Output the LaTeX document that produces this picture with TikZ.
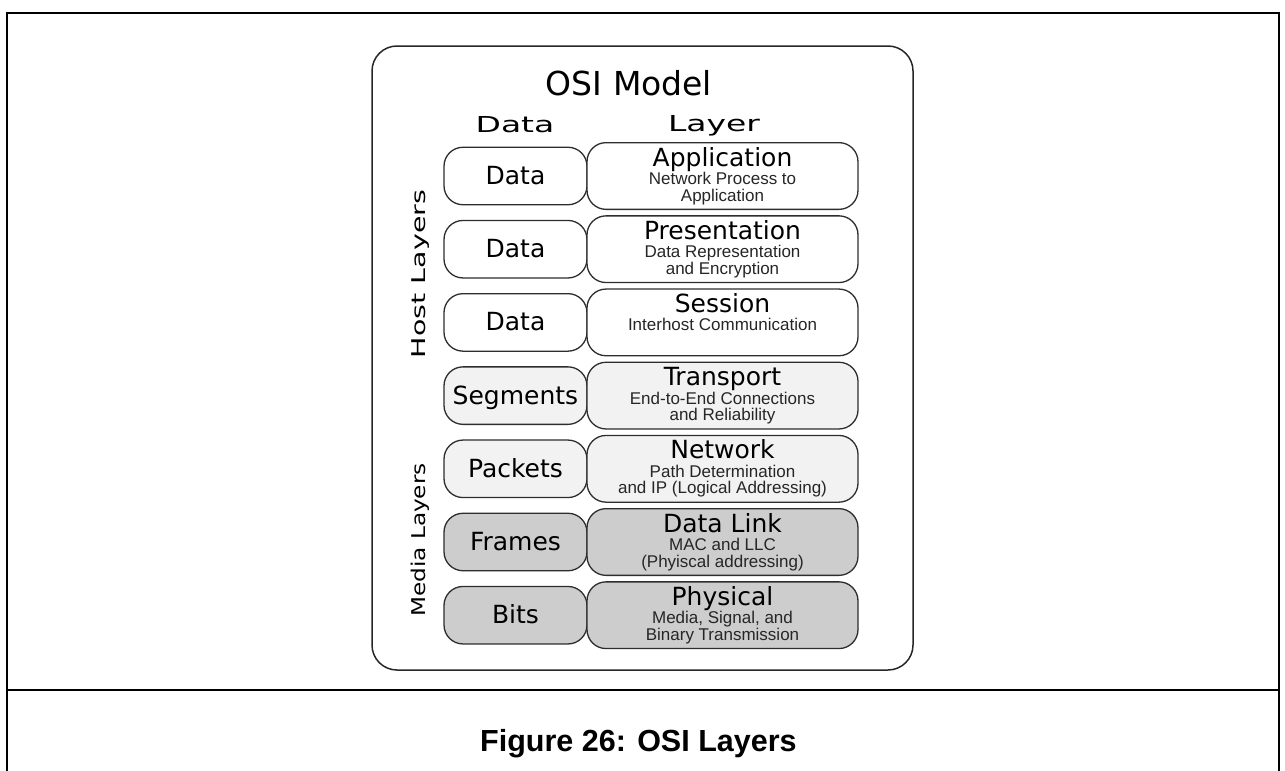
\documentclass[tikz,border=0pt]{standalone}
\usepackage{fontspec}
\setmainfont{DejaVu Sans}
\newfontfamily\arialfont{Liberation Sans}
\definecolor{lightg}{RGB}{242,242,242}
\definecolor{darkg}{RGB}{205,205,205}
\definecolor{edgeg}{RGB}{45,45,45}
\tikzset{
  boxline/.style={draw=edgeg, line width=1.3pt, rounded corners=19pt, inner sep=0pt},
  leftbox/.style={boxline, minimum width=143pt, minimum height=57.5pt},
  rightbox/.style={boxline, minimum width=271pt, minimum height=66.7pt},
  whitefill/.style={fill=white},
  lightfill/.style={fill=lightg},
  darkfill/.style={fill=darkg},
  bigtext/.style={font=\fontsize{25}{25}\selectfont, anchor=base, inner sep=0pt},
  subtext/.style={font=\arialfont\fontsize{17}{17}\selectfont, anchor=base, inner sep=0pt, text=black!85},
  headtext/.style={font=\fontsize{22}{22}\selectfont, anchor=base, inner sep=0pt},
  sidetext/.style={font=\fontsize{19}{19}\selectfont, rotate=90, inner sep=0pt},
  frameline/.style={line width=2pt, draw=black},
}
\begin{document}
\begin{tikzpicture}[x=1pt,y=-1pt]
\useasboundingbox (0,0) rectangle (1285,771);
% outer frame
\draw[frameline] (6.5,790) -- (6.5,12.5) -- (1278.5,12.5) -- (1278.5,790);
\draw[frameline] (6.5,690) -- (1278.5,690);
\node[font=\arialfont\bfseries\fontsize{30.5}{30.5}\selectfont, anchor=base west, inner sep=0pt] (caption) at (480,751.5) {Figure 26: OSI Layers};
% inner rounded panel
\draw[draw=black!85, line width=1.5pt, rounded corners=25pt] (372,46) rectangle (913,670);
\node[font=\fontsize{33}{33}\selectfont, anchor=base, inner sep=0pt] (title) at (629,95) {OSI Model};
\node[headtext] (hdata) at (515,132) {\scalebox{1.5}[1]{Data}};
\node[headtext] (hlayer) at (714,131) {\scalebox{1.5}[1]{Layer}};
\node[sidetext] (host) at (421,274) {\scalebox{1.5}[1]{Host Layers}};
\node[sidetext] (media) at (420,540) {\scalebox{1.22}[1]{Media Layers}};
% rows
\foreach \i/\fst/\ltext/\ttl/\subA/\subB in {
  1/whitefill/Data/Application/{Network Process to}/Application,
  2/whitefill/Data/Presentation/{Data Representation}/{and Encryption},
  3/whitefill/Data/Session/{Interhost Communication}/{},
  4/lightfill/Segments/Transport/{End-to-End Connections}/{and Reliability},
  5/lightfill/Packets/Network/{Path Determination}/{and IP (Logical Addressing)},
  6/darkfill/Frames/{Data Link}/{MAC and LLC}/{(Phyiscal addressing)},
  7/darkfill/Bits/Physical/{Media, Signal, and}/{Binary Transmission}}{
  \pgfmathsetmacro{\cy}{176+73.2*(\i-1)}
  \node[leftbox,\fst] (d\i) at (515.5,\cy) {};
  \node[rightbox,\fst] (l\i) at (722.5,\cy) {};
  \node[bigtext] (dt\i) at ([yshift=-8.5pt]d\i.center) {\ltext};
  \node[bigtext] (lt\i) at ([yshift=10pt]l\i.center) {\ttl};
  \node[subtext] (la\i) at ([yshift=-8.5pt]l\i.center) {\subA};
  \node[subtext] (lb\i) at ([yshift=-25pt]l\i.center) {\subB};
}
\end{tikzpicture}
\end{document}
